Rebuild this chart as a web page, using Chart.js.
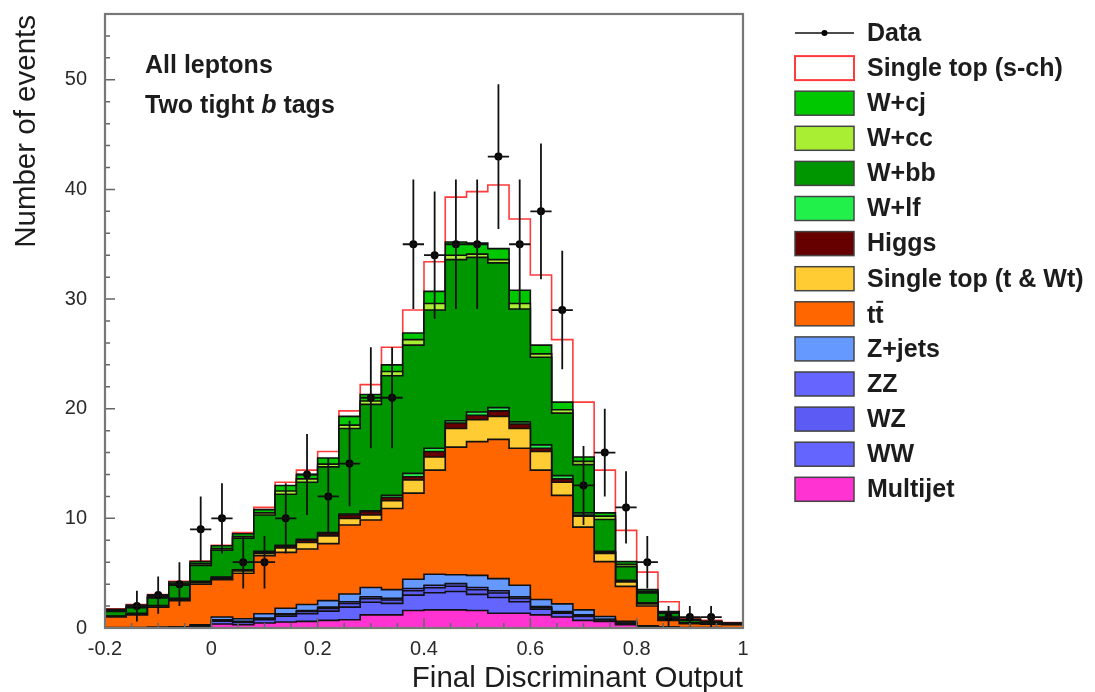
<!DOCTYPE html>
<html>
<head>
<meta charset="utf-8">
<title>Final Discriminant Output</title>
<script src="https://cdn.jsdelivr.net/npm/chart.js@4.4.1/dist/chart.umd.min.js"></script>
<style>
  html, body { margin: 0; padding: 0; background: #fff; }
  #wrap { width: 1095px; height: 692px; }
</style>
</head>
<body>
<div id="wrap"><canvas id="discChart" width="1095" height="692"></canvas></div>
<script>
// 30 bins of width 0.04 between -0.2 and 1.0
const binEdges = [-0.2, -0.16, -0.12, -0.08, -0.04, 0, 0.04, 0.08, 0.12, 0.16, 0.2, 0.24, 0.28, 0.32, 0.36,
    0.4, 0.44, 0.48, 0.52, 0.56, 0.6, 0.64, 0.68, 0.72, 0.76, 0.8, 0.84, 0.88, 0.92, 0.96, 1.0];

// observed events and their error bars
const dataObs = [0, 2, 3, 4, 9, 10, 6, 6, 10, 14, 12, 15, 21, 21, 35, 34, 35, 35, 43, 35, 38, 29, 13, 16, 11, 6, 1, 1, 1, 0];
const dataErr = [0, 1.4, 1.7, 2, 3, 3.2, 2.4, 2.4, 3.2, 3.7, 3.5, 3.9, 4.6, 4.6, 5.9, 5.8, 5.9, 5.9, 6.6, 5.9, 6.2, 5.4, 3.6, 4, 3.3, 2.4, 1, 1, 1, 0];

// predictions, bottom of the stack first
const multijet = [0, 0, 0, 0.02, 0.1, 0.36, 0.3, 0.45, 0.55, 0.6, 0.7, 0.75, 1.2, 1.2, 1.6, 1.65, 1.65, 1.6, 1.35, 1.35, 1.2, 1.0, 0.7, 0.6, 0.3, 0.1, 0.02, 0, 0, 0];
const ww = [0, 0, 0.02, 0.02, 0.07, 0.27, 0.21, 0.31, 0.52, 0.7, 0.84, 1.15, 1.15, 1.05, 1.4, 1.57, 1.68, 1.47, 1.43, 1.05, 0.52, 0.35, 0.35, 0.14, 0.1, 0.03, 0.02, 0.02, 0.01, 0];
const wz = [0, 0, 0, 0.01, 0.02, 0.08, 0.06, 0.09, 0.15, 0.2, 0.24, 0.33, 0.33, 0.3, 0.4, 0.45, 0.48, 0.42, 0.41, 0.3, 0.15, 0.1, 0.1, 0.04, 0.03, 0.01, 0.01, 0, 0, 0];
const zz = [0, 0, 0, 0, 0.01, 0.04, 0.03, 0.05, 0.08, 0.1, 0.12, 0.17, 0.17, 0.15, 0.2, 0.23, 0.24, 0.21, 0.21, 0.15, 0.08, 0.05, 0.05, 0.02, 0.02, 0.01, 0, 0, 0, 0];
const zjets = [0.05, 0.05, 0.06, 0.07, 0.1, 0.25, 0.25, 0.4, 0.5, 0.55, 0.6, 0.7, 0.85, 0.8, 0.85, 1.0, 0.8, 1.1, 1.1, 1.05, 0.65, 0.7, 0.45, 0.25, 0.15, 0.05, 0.03, 0.03, 0.02, 0.02];
const ttbar = [0.95, 1.15, 1.82, 2.38, 3.7, 3.4, 4.15, 5.3, 5.1, 5.05, 5.2, 6.3, 6.15, 7.4, 7.85, 9.5, 11.65, 12.2, 12.7, 12.5, 11.8, 9.9, 7.55, 5.0, 3.2, 1.8, 0.62, 0.35, 0.32, 0.28];
const singleTop = [0.05, 0.1, 0.1, 0.1, 0.15, 0.15, 0.2, 0.2, 0.4, 0.6, 0.7, 0.6, 0.45, 0.7, 1.2, 1.2, 1.7, 2.0, 2.1, 1.8, 1.7, 1.2, 1.0, 0.75, 0.4, 0.2, 0.1, 0.05, 0.05, 0.03];
const higgs = [0, 0, 0, 0.05, 0.05, 0.05, 0.05, 0.1, 0.15, 0.2, 0.2, 0.3, 0.3, 0.3, 0.3, 0.5, 0.5, 0.4, 0.5, 0.4, 0.3, 0.3, 0.1, 0.1, 0.1, 0.05, 0.02, 0.01, 0.01, 0.01];
const wlf = [0.05, 0.05, 0.05, 0.05, 0.05, 0.05, 0.05, 0.1, 0.1, 0.1, 0.1, 0.1, 0.1, 0.2, 0.3, 0.3, 0.2, 0.3, 0.3, 0.2, 0.3, 0.3, 0.2, 0.1, 0.05, 0.05, 0.03, 0.02, 0.01, 0.01];
const wbb = [0.4, 0.5, 0.7, 1.2, 1.45, 2.45, 2.9, 3.3, 4.65, 5.2, 6.0, 7.8, 9.7, 10.9, 11.7, 12.6, 14.7, 14.1, 13.2, 10.3, 8.0, 5.7, 4.4, 2.9, 1.25, 0.9, 0.5, 0.22, 0.13, 0.07];
const wcc = [0.1, 0.1, 0.1, 0.1, 0.15, 0.15, 0.15, 0.2, 0.3, 0.3, 0.25, 0.3, 0.3, 0.4, 0.5, 0.6, 0.4, 0.3, 0.3, 0.5, 0.3, 0.3, 0.3, 0.3, 0.2, 0.15, 0.07, 0.04, 0.03, 0.02];
const wcj = [0.1, 0.15, 0.15, 0.2, 0.2, 0.25, 0.25, 0.3, 0.5, 0.4, 0.55, 0.8, 0.6, 0.6, 0.6, 1.1, 1.2, 1.0, 1.0, 1.2, 0.8, 0.7, 0.4, 0.3, 0.25, 0.15, 0.08, 0.06, 0.04, 0.02];
const schan = [0.05, 0.05, 0.05, 0.05, 0.05, 0.05, 0.1, 0.2, 0.3, 0.4, 0.6, 0.5, 0.9, 1.6, 2.1, 2.7, 4.1, 4.7, 5.8, 6.5, 6.4, 5.7, 5.0, 3.9, 2.85, 1.6, 0.9, 0.1, 0.08, 0.04];

// axis ticks
const xTickValues = [-0.2, 0, 0.2, 0.4, 0.6, 0.8, 1.0];
const yTickValues = [0, 10, 20, 30, 40, 50];
const xMinorStep = 0.05;
const yMinorStep = 2;

const FONT = '"Liberation Sans", Arial, Helvetica, sans-serif';

const stackDefs = [
    { label: 'Multijet', values: multijet, color: '#ff33d2' },
    { label: 'WW', values: ww, color: '#6464ff' },
    { label: 'WZ', values: wz, color: '#5c5cf5' },
    { label: 'ZZ', values: zz, color: '#6666ff' },
    { label: 'Z+jets', values: zjets, color: '#6699ff' },
    { label: 'tt', values: ttbar, color: '#ff6600' },
    { label: 'Single top (t & Wt)', values: singleTop, color: '#ffcc33' },
    { label: 'Higgs', values: higgs, color: '#660000' },
    { label: 'W+lf', values: wlf, color: '#22f04a' },
    { label: 'W+bb', values: wbb, color: '#009600' },
    { label: 'W+cc', values: wcc, color: '#aaee33' },
    { label: 'W+cj', values: wcj, color: '#00c800' },
    { label: 'Single top (s-ch)', values: schan, color: '#ffffff', line: '#ff3b3b' },
];

function stepPoints(values) {
    const pts = values.map((v, i) => ({ x: binEdges[i], y: v }));
    pts.push({ x: binEdges[binEdges.length - 1], y: values[values.length - 1] });
    return pts;
}

const datasets = stackDefs.map((d, i) => ({
    label: d.label,
    data: stepPoints(d.values),
    stepped: true,
    stack: 'bg',
    fill: i === 0 ? 'origin' : '-1',
    backgroundColor: d.color,
    borderColor: d.line || '#111',
    borderWidth: 1.6,
    pointRadius: 0,
}));

datasets.push({
    label: 'Data',
    data: dataObs.map((n, i) => ({ x: (binEdges[i] + binEdges[i + 1]) / 2, y: n })),
    stack: 'obs',
    order: -1,
    showLine: false,
    fill: false,
    pointRadius: c => (dataObs[c.dataIndex] > 0 ? 4 : 0),
    pointBackgroundColor: '#000',
    pointBorderWidth: 0,
});

function drawTtbar(ctx, x, y) {
    ctx.fillText('tt', x, y);
    const w1 = ctx.measureText('t').width;
    const w2 = ctx.measureText('tt').width;
    ctx.save();
    ctx.strokeStyle = ctx.fillStyle;
    ctx.lineWidth = 2;
    ctx.beginPath();
    ctx.moveTo(x + w1 + 1, y - 21);
    ctx.lineTo(x + w2 - 0.5, y - 21);
    ctx.stroke();
    ctx.restore();
}

const decorations = {
    id: 'decorations',
    afterDatasetsDraw(chart) {
        const { ctx, scales: { x, y } } = chart;
        ctx.save();
        ctx.strokeStyle = '#111';
        ctx.lineWidth = 1.8;
        dataObs.forEach((n, i) => {
            if (n <= 0) return;
            const cx = x.getPixelForValue((binEdges[i] + binEdges[i + 1]) / 2);
            const yc = y.getPixelForValue(n);
            ctx.beginPath();
            ctx.moveTo(cx, y.getPixelForValue(n + dataErr[i]));
            ctx.lineTo(cx, y.getPixelForValue(Math.max(0, n - dataErr[i])));
            ctx.moveTo(x.getPixelForValue(binEdges[i]), yc);
            ctx.lineTo(x.getPixelForValue(binEdges[i + 1]), yc);
            ctx.stroke();
        });
        ctx.restore();
    },
    afterDraw(chart) {
        const { ctx, chartArea: a, scales: { x, y } } = chart;
        ctx.save();

        // inside ticks
        ctx.strokeStyle = '#666';
        ctx.lineWidth = 1.5;
        ctx.beginPath();
        for (let v = x.min; v <= x.max + 1e-9; v += xMinorStep) {
            const px = x.getPixelForValue(v);
            const major = Math.abs(v / 0.2 - Math.round(v / 0.2)) < 1e-6;
            ctx.moveTo(px, a.bottom);
            ctx.lineTo(px, a.bottom - (major ? 10 : 5));
        }
        for (let v = y.min; v <= y.max + 1e-9; v += yMinorStep) {
            const py = y.getPixelForValue(v);
            const major = v % 10 === 0;
            ctx.moveTo(a.left, py);
            ctx.lineTo(a.left + (major ? 10 : 5), py);
        }
        ctx.stroke();

        // frame
        ctx.strokeStyle = '#777';
        ctx.lineWidth = 2.2;
        ctx.strokeRect(a.left, a.top, a.right - a.left, a.bottom - a.top);

        // axis titles
        ctx.fillStyle = '#1c1c1c';
        ctx.font = '29.5px ' + FONT;
        ctx.textAlign = 'right';
        ctx.textBaseline = 'alphabetic';
        ctx.fillText('Final Discriminant Output', a.right, 687);
        ctx.save();
        ctx.translate(35, a.top + 1);
        ctx.rotate(-Math.PI / 2);
        ctx.fillText('Number of events', 0, 0);
        ctx.restore();

        // labels inside the frame
        ctx.textAlign = 'left';
        ctx.font = 'bold 25px ' + FONT;
        ctx.fillText('All leptons', 145, 73);
        let tx = 145;
        ctx.fillText('Two tight ', tx, 113);
        tx += ctx.measureText('Two tight ').width;
        ctx.font = 'italic bold 25px ' + FONT;
        ctx.fillText('b', tx, 113);
        tx += ctx.measureText('b').width;
        ctx.font = 'bold 25px ' + FONT;
        ctx.fillText(' tags', tx, 113);

        // legend
        const order = ['Data', 'Single top (s-ch)', 'W+cj', 'W+cc', 'W+bb', 'W+lf', 'Higgs',
            'Single top (t & Wt)', 'tt', 'Z+jets', 'ZZ', 'WZ', 'WW', 'Multijet'];
        const bx = 795, bw = 59, bh = 24, rowH = 35.1, firstRow = 33;
        ctx.textBaseline = 'middle';
        order.forEach((label, i) => {
            const cy = firstRow + i * rowH;
            if (label === 'Data') {
                ctx.strokeStyle = '#111';
                ctx.lineWidth = 1.5;
                ctx.beginPath();
                ctx.moveTo(bx, cy);
                ctx.lineTo(bx + bw, cy);
                ctx.stroke();
                ctx.fillStyle = '#000';
                ctx.beginPath();
                ctx.arc(bx + bw / 2, cy, 3, 0, Math.PI * 2);
                ctx.fill();
            } else {
                const def = stackDefs.find(d => d.label === label);
                ctx.fillStyle = def.color;
                ctx.fillRect(bx, cy - bh / 2, bw, bh);
                ctx.strokeStyle = def.line || '#444';
                ctx.lineWidth = def.line ? 2 : 1.5;
                ctx.strokeRect(bx, cy - bh / 2, bw, bh);
            }
            ctx.fillStyle = '#1c1c1c';
            ctx.font = 'bold 25px ' + FONT;
            if (label === 'tt') {
                ctx.textBaseline = 'alphabetic';
                drawTtbar(ctx, 867, cy + 9);
                ctx.textBaseline = 'middle';
            } else {
                ctx.fillText(label, 867, cy + 1);
            }
        });
        ctx.restore();
    },
};

new Chart(document.getElementById('discChart'), {
    type: 'line',
    data: { datasets },
    options: {
        responsive: false,
        animation: false,
        events: [],
        layout: { padding: { left: 0, top: 14, right: 352, bottom: 0 } },
        plugins: { legend: { display: false }, tooltip: { enabled: false } },
        elements: { line: { tension: 0 } },
        scales: {
            x: {
                type: 'linear',
                min: -0.2,
                max: 1.0,
                grid: { display: false },
                border: { display: false },
                afterBuildTicks: s => { s.ticks = xTickValues.map(v => ({ value: v })); },
                afterFit: s => { s.height = 64; s.paddingLeft = 0; s.paddingRight = 0; },
                ticks: {
                    autoSkip: false,
                    maxRotation: 0,
                    padding: 1,
                    color: '#2a2a2a',
                    font: { family: FONT, size: 20 },
                    callback: v => String(Math.round(v * 10) / 10),
                },
            },
            y: {
                type: 'linear',
                stacked: true,
                min: 0,
                max: 56,
                grid: { display: false },
                border: { display: false },
                afterBuildTicks: s => { s.ticks = yTickValues.map(v => ({ value: v })); },
                afterFit: s => { s.width = 105; s.paddingTop = 0; s.paddingBottom = 0; },
                ticks: {
                    padding: 10,
                    color: '#2a2a2a',
                    font: { family: FONT, size: 20 },
                },
            },
        },
    },
    plugins: [decorations],
});
</script>
</body>
</html>
